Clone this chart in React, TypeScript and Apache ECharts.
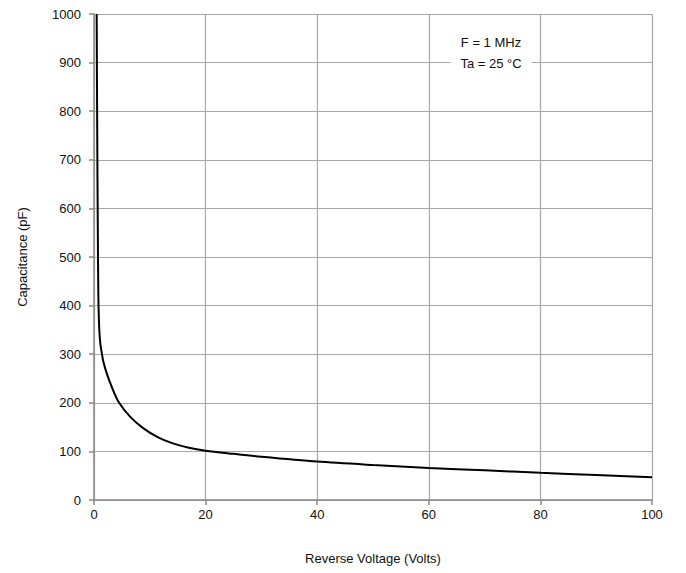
import React, { useEffect, useRef } from "react";
import * as echarts from "echarts";

// Reverse voltage (V) and junction capacitance (pF)
const reverseVoltage = [0.48, 0.58, 0.68, 0.78, 0.88, 1.0, 1.15, 1.4, 1.67, 2.27, 3.17, 4.5, 6.5, 8.8, 11.5, 14, 17, 20, 25, 30, 40, 50, 60, 70, 80, 90, 100];
const capacitance = [1000, 750, 560, 420, 370, 340, 320, 302, 285, 261, 233, 200, 171, 148, 129, 117, 107.5, 101.5, 95, 89, 79, 72, 66, 61, 56, 51.5, 46.7];

const xTicks = [0, 20, 40, 60, 80, 100];
const yTicks = [0, 100, 200, 300, 400, 500, 600, 700, 800, 900, 1000];
const conditions = ["F = 1 MHz", "Ta = 25 °C"];

const FONT = "'Liberation Sans Narrow', 'Liberation Sans', Arial, sans-serif";
const FS = 13;

export default function App() {
  const ref = useRef<HTMLDivElement>(null);

  useEffect(() => {
    document.body.style.margin = "0";
    if (!ref.current) return;
    const chart = echarts.init(ref.current, null, { renderer: "svg" });
    const points = reverseVoltage.map((v, i) => [v, capacitance[i]]);
    chart.setOption({
      animation: false,
      backgroundColor: "#ffffff",
      textStyle: { fontFamily: FONT },
      grid: { left: 94, right: 34, top: 14, bottom: 73 },
      xAxis: {
        type: "value",
        min: xTicks[0],
        max: xTicks[xTicks.length - 1],
        interval: 20,
        name: "Reverse Voltage (Volts)",
        nameLocation: "middle",
        nameGap: 52,
        nameTextStyle: { fontSize: FS, color: "#111", fontFamily: FONT },
        axisLine: { show: true, lineStyle: { color: "#888", width: 1.5 } },
        axisTick: { show: true, length: 5, lineStyle: { color: "#888", width: 1.5 } },
        axisLabel: { fontSize: FS, color: "#111", margin: 8, fontFamily: FONT },
        splitLine: { show: true, lineStyle: { color: "#a8a8a8", width: 1.2 } },
      },
      yAxis: {
        type: "value",
        min: yTicks[0],
        max: yTicks[yTicks.length - 1],
        interval: 100,
        name: "Capacitance (pF)",
        nameLocation: "middle",
        nameGap: 65,
        nameTextStyle: { fontSize: FS, color: "#111", fontFamily: FONT },
        axisLine: { show: true, lineStyle: { color: "#888", width: 1.5 } },
        axisTick: { show: true, length: 5, lineStyle: { color: "#888", width: 1.5 } },
        axisLabel: {
          fontSize: FS,
          color: "#111",
          margin: 13,
          fontFamily: FONT,
          formatter: (v: number) => String(v),
        },
        splitLine: { show: true, lineStyle: { color: "#a8a8a8", width: 1.2 } },
      },
      graphic: [
        {
          type: "text",
          x: 491,
          y: 32,
          z: 100,
          style: {
            text: conditions.join("\n"),
            fontSize: FS,
            lineHeight: 21,
            fontFamily: FONT,
            fill: "#111",
            align: "center",
            backgroundColor: "#ffffff",
            padding: [0, 10],
          },
        },
      ],
      series: [
        {
          type: "line",
          data: points,
          showSymbol: false,
          smooth: 0.3,
          lineStyle: { color: "#000", width: 2 },
          clip: true,
        },
      ],
    });
    return () => chart.dispose();
  }, []);

  return <div ref={ref} style={{ width: 686, height: 573 }} />;
}
